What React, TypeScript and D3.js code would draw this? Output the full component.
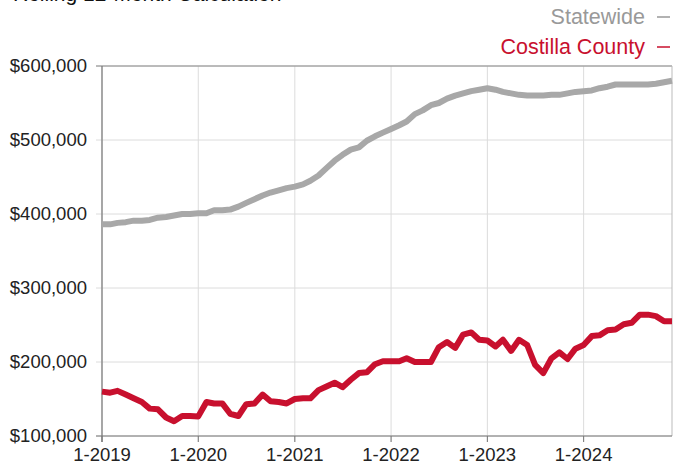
import * as d3 from 'd3'

// monthly points, Jan 2019 .. Dec 2024
const months = d3.timeMonth.range(new Date(2019, 0, 1), new Date(2025, 0, 1))

const statewide = [
	386000, 386000, 388000, 389000, 391000, 391000, 392000, 395000, 396000, 398000, 400000, 400000,
	401000, 401000, 405000, 405000, 406000, 410000, 415000, 420000, 425000, 429000, 432000, 435000,
	437000, 440000, 445000, 452000, 462000, 472000, 480000, 487000, 490000, 499000, 505000, 510000,
	515000, 520000, 525000, 535000, 540000, 547000, 550000, 556000, 560000, 563000, 566000, 568000,
	570000, 568000, 565000, 563000, 561000, 560000, 560000, 560000, 561000, 561000, 563000, 565000,
	566000, 567000, 570000, 572000, 575000, 575000, 575000, 575000, 575000, 576000, 578000, 580000,
]

const costilla = [
	160000, 158500, 161000, 156000, 151000, 146000, 137000, 136000, 125000, 120000, 127000, 127000,
	126500, 146000, 144000, 144000, 130000, 127000, 143000, 144000, 156000, 147000, 146000, 144000,
	150000, 151000, 151000, 162000, 167000, 172000, 166000, 176000, 185000, 186000, 197000, 201000,
	201000, 201000, 205000, 200000, 200000, 200000, 220000, 227000, 219000, 237000, 240000, 230000,
	229000, 221000, 230000, 215000, 230000, 223000, 196000, 185000, 205000, 213000, 204000, 218000,
	223000, 235000, 236000, 243000, 244000, 251000, 253000, 264000, 264000, 262000, 255000, 255000,
]

const yTicks = [100000, 200000, 300000, 400000, 500000, 600000]
const xTickLabels = ['1-2019', '1-2020', '1-2021', '1-2022', '1-2023', '1-2024']
const xTickIndex = [0, 12, 24, 36, 48, 60]

const width = 674
const height = 466
const margin = { top: 66, right: 2, bottom: 30, left: 102 }

const font = '"Liberation Sans", Arial, Helvetica, sans-serif'
const grayLine = '#a8a8a8'
const red = '#c8102e'

export default function App() {
	const x = d3
		.scaleTime()
		.domain([months[0], months[months.length - 1]])
		.range([margin.left, width - margin.right])
	const y = d3
		.scaleLinear()
		.domain([100000, 600000])
		.range([height - margin.bottom, margin.top])

	const line = d3
		.line<number>()
		.x((_, i) => x(months[i]))
		.y((d) => y(d))

	const fmt = d3.format('$,.0f')
	const x0 = margin.left
	const x1 = width - margin.right
	const y0 = height - margin.bottom
	const y1 = margin.top

	return (
		<svg
			width={width}
			height={height}
			style={{ position: 'absolute', left: 0, top: 0, background: '#fff' }}
			fontFamily={font}
		>
			{/* title, cut off by the top edge as in the source */}
			<text x={13} y={1} fontSize={21} fill='#111'>
				Rolling 12-Month Calculation
			</text>

			{/* legend */}
			<text x={645} y={24} fontSize={21.5} fill='#999' textAnchor='end'>
				Statewide
			</text>
			<line x1={657} x2={670} y1={17} y2={17} stroke='#999' strokeWidth={1.5} />
			<text x={645} y={54} fontSize={21.5} fill={red} textAnchor='end'>
				Costilla County
			</text>
			<line x1={657} x2={670} y1={47} y2={47} stroke={red} strokeWidth={1.5} />

			{/* grid */}
			{yTicks.map((t) => (
				<line key={t} x1={x0 - 6} x2={x1} y1={y(t)} y2={y(t)} stroke='#dcdcdc' strokeWidth={1} />
			))}
			{xTickIndex.map((i) => (
				<line
					key={i}
					x1={x(months[i])}
					x2={x(months[i])}
					y1={y1}
					y2={y0 + 6}
					stroke='#dcdcdc'
					strokeWidth={1}
				/>
			))}

			{/* frame */}
			<line x1={x0 - 6} x2={x1} y1={y1} y2={y1} stroke='#888' strokeWidth={1} />
			<line x1={x1} x2={x1} y1={y1} y2={y0} stroke='#bbb' strokeWidth={1} />
			<line x1={x0} x2={x0} y1={y1} y2={y0 + 6} stroke='#777' strokeWidth={1.2} />
			<line x1={x0 - 6} x2={x1} y1={y0} y2={y0} stroke='#777' strokeWidth={1.2} />
			{xTickIndex.map((i) => (
				<line
					key={i}
					x1={x(months[i])}
					x2={x(months[i])}
					y1={y0}
					y2={y0 + 6}
					stroke='#777'
					strokeWidth={1}
				/>
			))}

			{/* axis labels */}
			{yTicks.map((t) => (
				<text key={t} x={x0 - 15} y={y(t) + 6} fontSize={18.5} fill='#222' textAnchor='end'>
					{fmt(t)}
				</text>
			))}
			{xTickIndex.map((i, k) => (
				<text
					key={i}
					x={x(months[i])}
					y={y0 + 25}
					fontSize={18.5}
					fill='#222'
					textAnchor='middle'
				>
					{xTickLabels[k]}
				</text>
			))}

			{/* series */}
			<path
				d={line(statewide) ?? ''}
				fill='none'
				stroke={grayLine}
				strokeWidth={6}
				strokeLinejoin='round'
			/>
			<path
				d={line(costilla) ?? ''}
				fill='none'
				stroke={red}
				strokeWidth={6}
				strokeLinejoin='round'
			/>
		</svg>
	)
}
